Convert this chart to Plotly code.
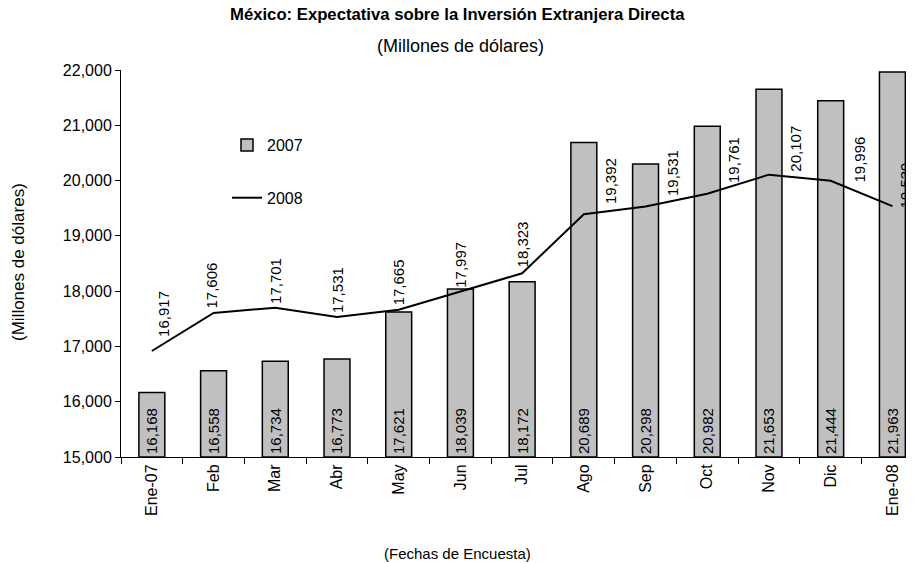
import plotly.graph_objects as go

categories = ["Ene-07", "Feb", "Mar", "Abr", "May", "Jun", "Jul", "Ago",
              "Sep", "Oct", "Nov", "Dic", "Ene-08"]
values_2007 = [16168, 16558, 16734, 16773, 17621, 18039, 18172, 20689,
               20298, 20982, 21653, 21444, 21963]
values_2008 = [16917, 17606, 17701, 17531, 17665, 17997, 18323, 19392,
               19531, 19761, 20107, 19996, 19539]

Y_MIN, Y_MAX = 15000, 22000

# label placement tweaks (pixels), style only
label_xshift = [11, -2, 0, 0, 0, 0, 0, 26, 27, 27, 27, 29, 13]
label_yshift = [12, 2, 2, 2, 2, 2, 4, 8, 8, 9, 1, -4, -4]

FONT = "Liberation Sans, Arial, sans-serif"

# page body has an 8px margin; plot area in page pixels: x 121..914, y 70..457
def px(X):
    return (X - 121) / 793


def py(Y):
    return (457 - Y) / 387


fig = go.Figure()
fig.add_trace(go.Bar(
    x=categories, y=[v - Y_MIN for v in values_2007], base=Y_MIN, name="2007",
    width=0.42,
    marker=dict(color="#C0C0C0", line=dict(color="black", width=1.5)),
    text=[f"{v:,}" for v in values_2007],
    textposition="inside", insidetextanchor="start", textangle=-90,
    textfont=dict(family=FONT, size=15, color="black"),
    constraintext="none",
    hovertext=[f"{v:,}" for v in values_2007], hoverinfo="x+text",
    legendgroup="a",
))
fig.add_trace(go.Scatter(
    x=categories, y=values_2008, name="2008", mode="lines",
    line=dict(color="black", width=2),
    legendgroup="b",
))

for i, (c, v) in enumerate(zip(categories, values_2008)):
    fig.add_annotation(
        x=c, y=v, xref="x", yref="y", text=f"{v:,}", showarrow=False,
        textangle=-90, xanchor="center", yanchor="bottom",
        xshift=label_xshift[i], yshift=label_yshift[i],
        font=dict(family=FONT, size=15, color="black"),
    )

fig.add_annotation(
    x=px(457), y=py(15), xref="paper", yref="paper",
    text="<b>México: Expectativa sobre la Inversión Extranjera Directa</b>",
    showarrow=False, xanchor="center", yanchor="middle",
    font=dict(family=FONT, size=16.7, color="black"))
fig.add_annotation(
    x=px(460), y=py(46), xref="paper", yref="paper",
    text="(Millones de dólares)",
    showarrow=False, xanchor="center", yanchor="middle",
    font=dict(family=FONT, size=18, color="black"))
fig.add_annotation(
    x=px(18), y=py(262), xref="paper", yref="paper",
    text="(Millones de dólares)", textangle=-90,
    showarrow=False, xanchor="center", yanchor="middle",
    font=dict(family=FONT, size=17, color="black"))
fig.add_annotation(
    x=px(457), y=py(553), xref="paper", yref="paper",
    text="(Fechas de Encuesta)",
    showarrow=False, xanchor="center", yanchor="middle",
    font=dict(family=FONT, size=15, color="black"))

fig.update_layout(
    width=906, height=555,
    margin=dict(l=113, r=0, t=62, b=106),
    paper_bgcolor="white", plot_bgcolor="white",
    font=dict(family=FONT, size=15, color="black"),
    showlegend=True,
    legend=dict(x=px(227), y=py(128), xanchor="left", yanchor="top",
                bgcolor="rgba(0,0,0,0)", tracegroupgap=29,
                font=dict(family=FONT, size=16)),
    bargap=0.58,
)

fig.update_xaxes(
    type="category", range=[-0.5, 12.35],
    tickangle=-90, tickson="boundaries", ticks="outside", ticklen=6,
    tickcolor="black", showline=True, linecolor="black", linewidth=1,
    showgrid=False, zeroline=False,
    tickfont=dict(family=FONT, size=16, color="black"),
)
fig.update_yaxes(
    range=[Y_MIN, Y_MAX], dtick=1000, tickformat=",",
    ticks="outside", ticklen=5, tickcolor="black",
    showline=True, linecolor="black", linewidth=1,
    showgrid=False, zeroline=False,
    tickfont=dict(family=FONT, size=16, color="black"),
)

fig.write_html("out.html")
